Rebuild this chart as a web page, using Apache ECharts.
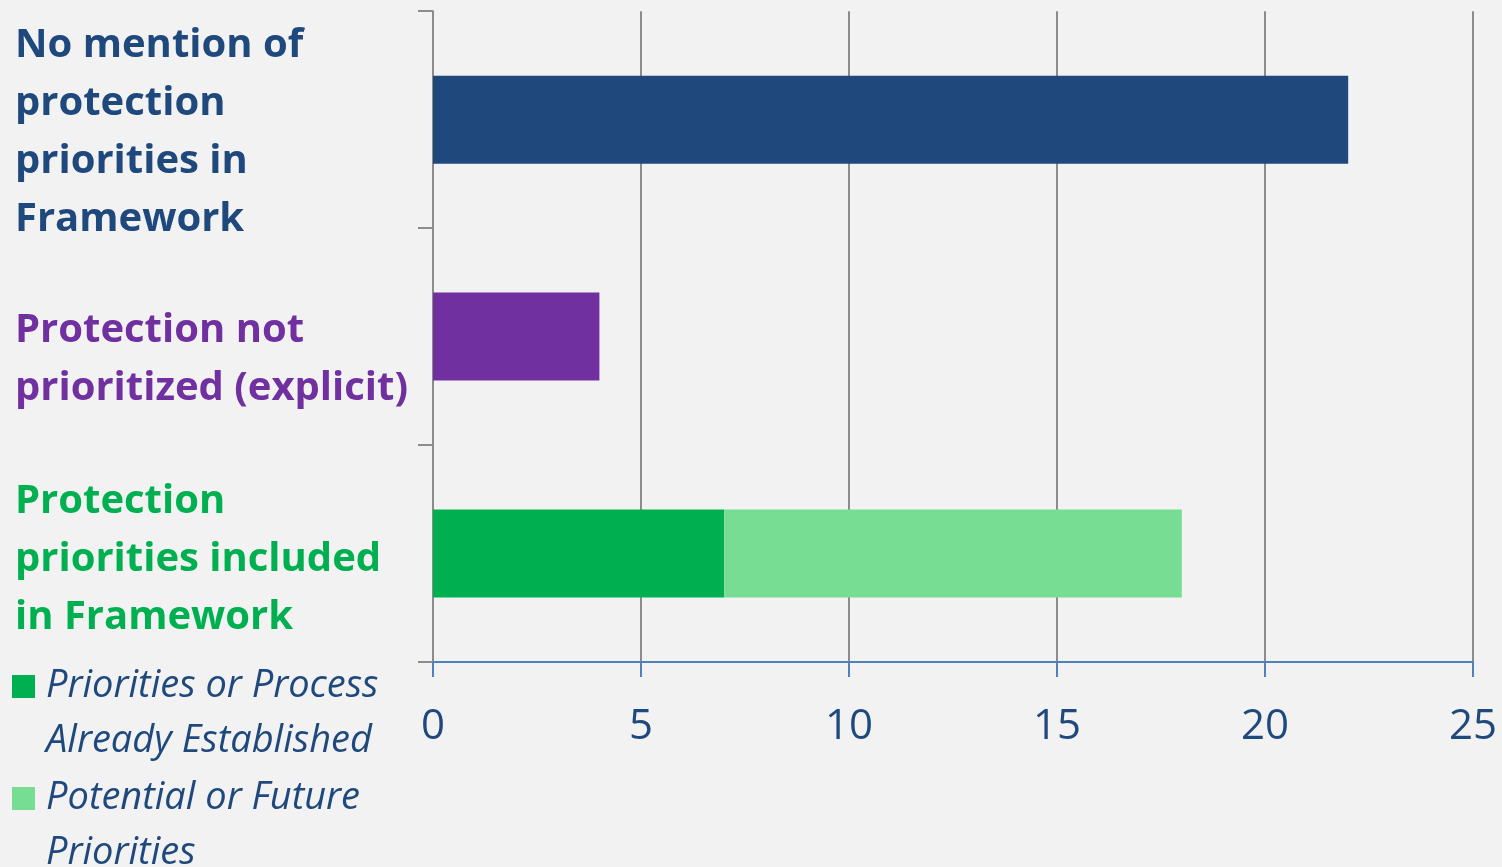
<!DOCTYPE html>
<html lang="en">

<head>
    <meta charset="UTF-8">
    <title>Protection priorities in Framework</title>
    <script src="https://cdn.jsdelivr.net/npm/echarts@6/dist/echarts.min.js"></script>
    <style>
        body {
            margin: 0;
        }

        #root {
            width: 1502px;
            height: 867px;
            background-color: #f2f2f2;
        }
    </style>
</head>

<body>

    <div id="root"></div>
    <script>

        // data
        var categories = [
            'No mention of\nprotection\npriorities in\nFramework',
            'Protection not\nprioritized (explicit)',
            'Protection\npriorities included\nin Framework'
        ];
        var established = [22, 4, 7];
        var potential = [0, 0, 11];
        var seriesNames = ['Priorities or Process\nAlready Established', 'Potential or Future\nPriorities'];
        var xTicks = [0, 5, 10, 15, 20, 25];

        var catColors = ['#1f497d', '#7030a0', '#00b050'];
        var lightGreen = '#77dd92';
        var navy = '#1f497d';

        // per-category rich style, padding nudges each block a little downwards
        var catPad = [[26, 0, 0, 0], [46, 0, 0, 0], [12, 0, 0, 0]];
        var rich = {};
        categories.forEach(function (c, i) {
            rich['c' + i] = {
                color: catColors[i],
                fontFamily: 'Open Sans',
                fontWeight: 'bold',
                fontSize: 40,
                lineHeight: 58,
                align: 'left',
                padding: catPad[i]
            };
        });

        var mychart = echarts.init(document.getElementById('root'));

        mychart.setOption({
            backgroundColor: '#f2f2f2',
            animation: false,
            grid: {
                left: 433,
                right: 29,
                top: 9,
                bottom: 205
            },
            xAxis: {
                type: 'value',
                min: xTicks[0],
                max: xTicks[xTicks.length - 1],
                interval: 5,
                axisLine: {
                    show: true,
                    lineStyle: { color: '#4f81bd', width: 2 }
                },
                axisTick: {
                    show: true,
                    length: 15,
                    lineStyle: { color: '#4f81bd', width: 2 }
                },
                splitLine: {
                    show: true,
                    lineStyle: { color: '#8c8c8c', width: 2 }
                },
                axisLabel: {
                    color: navy,
                    fontFamily: 'Open Sans',
                    fontSize: 42,
                    margin: 44
                }
            },
            yAxis: {
                type: 'category',
                inverse: true,
                data: categories,
                axisLine: {
                    show: true,
                    lineStyle: { color: '#8c8c8c', width: 2 }
                },
                axisTick: {
                    show: true,
                    length: 15,
                    lineStyle: { color: '#8c8c8c', width: 2 }
                },
                axisLabel: {
                    margin: 418,
                    align: 'left',
                    formatter: function (val, idx) {
                        return '{c' + idx + '|' + val + '}';
                    },
                    rich: rich
                }
            },
            series: [
                {
                    name: seriesNames[0],
                    type: 'bar',
                    stack: 'all',
                    barWidth: 88,
                    data: established.map(function (v, i) {
                        return { value: v, itemStyle: { color: catColors[i] } };
                    })
                },
                {
                    name: seriesNames[1],
                    type: 'bar',
                    stack: 'all',
                    barWidth: 88,
                    itemStyle: { color: lightGreen },
                    data: potential
                }
            ],
            // legend drawn by hand so the swatch sits on the first line
            graphic: [
                { type: 'rect', left: 12, top: 675, shape: { width: 23, height: 23 }, style: { fill: catColors[2] } },
                {
                    type: 'text', left: 46, top: 659,
                    style: { text: seriesNames[0], fill: navy, font: 'italic 38px "Open Sans"', lineHeight: 55 }
                },
                { type: 'rect', left: 12, top: 787, shape: { width: 23, height: 23 }, style: { fill: lightGreen } },
                {
                    type: 'text', left: 46, top: 771,
                    style: { text: seriesNames[1], fill: navy, font: 'italic 38px "Open Sans"', lineHeight: 55 }
                }
            ]
        });

    </script>

</body>

</html>
